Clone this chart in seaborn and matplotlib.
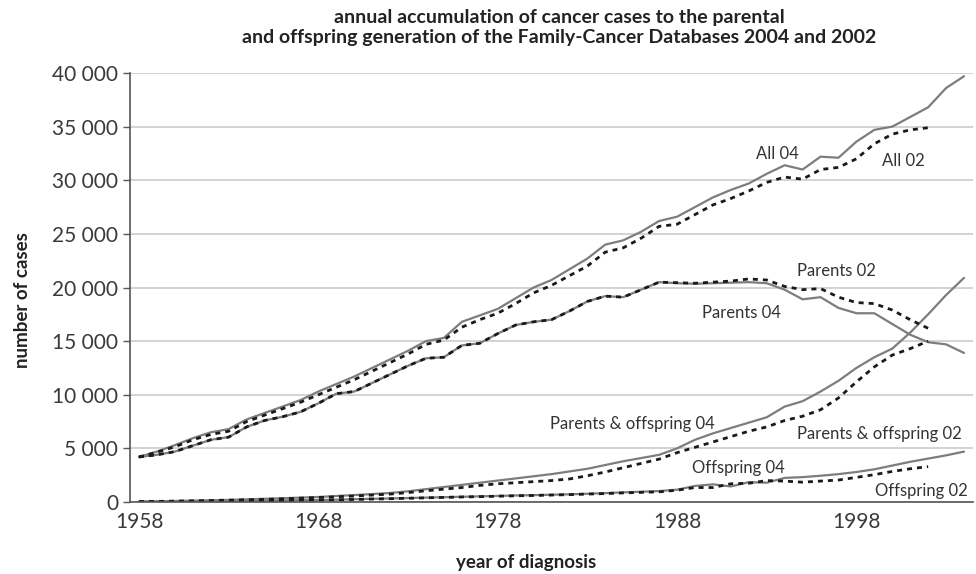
import matplotlib
matplotlib.use("Agg")
import matplotlib.pyplot as plt
import seaborn as sns
from matplotlib.ticker import FuncFormatter, MultipleLocator

# years of diagnosis: database 2004 runs to 2004, database 2002 to 2002
years_04 = list(range(1958, 2005))
years_02 = list(range(1958, 2003))

# all cases
all_04 = [4200, 4700, 5300, 5950, 6500, 6800, 7700, 8300, 8900, 9500,
          10300, 11000, 11700, 12500, 13300, 14100, 15000, 15300, 16800, 17400,
          18000, 19000, 20000, 20700, 21700, 22700, 24000, 24400, 25200, 26200,
          26600, 27500, 28400, 29100, 29700, 30600, 31400, 31000, 32200, 32100,
          33600, 34700, 35000, 35900, 36800, 38600, 39700]
all_02 = [4200, 4650, 5150, 5800, 6300, 6600, 7500, 8100, 8700, 9300,
          10000, 10700, 11400, 12200, 13000, 13800, 14700, 15100, 16300, 17000,
          17600, 18500, 19500, 20200, 21100, 22000, 23300, 23700, 24600, 25700,
          25900, 26800, 27700, 28300, 29000, 29800, 30300, 30100, 31000, 31200,
          32000, 33400, 34300, 34700, 34900]

# parents
parents_04 = [4200, 4400, 4700, 5250, 5800, 6050, 7000, 7600, 7950, 8400,
              9200, 10100, 10300, 11100, 11900, 12700, 13400, 13500, 14600, 14800,
              15700, 16500, 16800, 17000, 17800, 18700, 19200, 19100, 19800, 20500,
              20400, 20350, 20400, 20450, 20500, 20400, 19800, 18900, 19100, 18100,
              17600, 17600, 16600, 15600, 14900, 14700, 13900]
parents_02 = [4200, 4400, 4700, 5250, 5800, 6050, 7000, 7600, 7950, 8400,
              9200, 10100, 10300, 11100, 11900, 12700, 13400, 13500, 14600, 14800,
              15700, 16500, 16800, 17000, 17800, 18700, 19200, 19100, 19800, 20500,
              20450, 20400, 20500, 20600, 20800, 20700, 20100, 19800, 19900, 19100,
              18600, 18500, 17900, 17000, 16200]

# parents & offspring
both_04 = [50, 70, 100, 130, 170, 200, 250, 300, 350, 410,
           470, 560, 650, 740, 840, 1000, 1200, 1400, 1600, 1800,
           2000, 2200, 2400, 2600, 2850, 3100, 3450, 3800, 4100, 4400,
           5000, 5800, 6400, 6900, 7400, 7900, 8900, 9400, 10300, 11300,
           12500, 13500, 14300, 15800, 17500, 19300, 20900]
both_02 = [40, 60, 80, 110, 140, 170, 210, 250, 300, 360,
           420, 490, 560, 650, 740, 880, 1050, 1200, 1350, 1550,
           1700, 1800, 1900, 2000, 2150, 2450, 2800, 3200, 3600, 4000,
           4600, 5100, 5600, 6100, 6600, 7000, 7600, 8000, 8600, 9700,
           11200, 12600, 13700, 14300, 15000]

# offspring
offspring_04 = [20, 30, 40, 50, 70, 90, 110, 130, 150, 170,
                190, 220, 260, 300, 330, 370, 410, 450, 490, 530,
                570, 610, 640, 680, 720, 770, 830, 900, 960, 1020,
                1150, 1500, 1650, 1450, 1850, 1800, 2250, 2320, 2450, 2600,
                2800, 3050, 3400, 3750, 4050, 4350, 4700]
offspring_02 = [15, 25, 35, 45, 60, 80, 100, 120, 140, 160,
                180, 210, 240, 280, 310, 350, 390, 430, 470, 500,
                540, 580, 610, 650, 690, 740, 790, 850, 900, 950,
                1100, 1350, 1350, 1700, 1750, 2000, 1950, 1850, 1950, 2050,
                2300, 2550, 2850, 3100, 3300]

# labels written next to the curves: (text, year, cases)
labels = [("All 04", 1993.6, 32450), ("All 02", 2000.6, 31800),
          ("Parents 02", 1996.9, 21500), ("Parents 04", 1991.6, 17600),
          ("Parents & offspring 04", 1985.5, 7250),
          ("Parents & offspring 02", 1999.3, 6300),
          ("Offspring 04", 1991.4, 3150), ("Offspring 02", 2001.6, 1000)]

sns.set_style("white")
plt.rcParams["font.family"] = ["Lato", "DejaVu Sans"]

fig = plt.figure(figsize=(9.76, 5.74), dpi=100)
ax = fig.add_axes([0.1332, 0.1254, 0.8637, 0.7474])

solid_col = "#7d7d7d"
dash_col = "#1a1a1a"
dash_style = (0, (1.8, 1.8))

# solid lines: 2004 database
for vals in [all_04, parents_04, both_04, offspring_04]:
    sns.lineplot(x=years_04, y=vals, ax=ax, color=solid_col, linewidth=1.6)
# dashed lines: 2002 database
for vals in [all_02, parents_02, both_02, offspring_02]:
    sns.lineplot(x=years_02, y=vals, ax=ax, color=dash_col, linewidth=2.0,
                 linestyle=dash_style)

for txt, xx, yy in labels:
    ax.text(xx, yy, txt, ha="center", va="center", fontsize=12, color="#333333")

ax.set_xlim(1957.5, 2004.5)
ax.set_ylim(0, 40000)
ax.yaxis.set_major_locator(MultipleLocator(5000))
ax.yaxis.set_major_formatter(FuncFormatter(lambda v, p: f"{int(v):,}".replace(",", " ")))
ax.set_xticks([1958, 1968, 1978, 1988, 1998])
ax.set_xticks([y - 0.5 for y in range(1958, 2006)], minor=True)
ax.tick_params(axis="x", which="major", length=0, pad=7, labelsize=15, colors="#3a3a3a")
ax.tick_params(axis="x", which="minor", length=6, width=1, color="#555555", direction="out")
ax.tick_params(axis="y", which="major", length=5, width=1, color="#555555",
               labelsize=15, colors="#3a3a3a", direction="out", left=True)

ax.grid(axis="y", color="#d0d0d0", linewidth=1.3)
ax.grid(axis="x", visible=False)
ax.set_axisbelow(True)
for side in ["top", "right"]:
    ax.spines[side].set_visible(False)
for side in ["left", "bottom"]:
    ax.spines[side].set_color("#555555")
    ax.spines[side].set_linewidth(1.2)

ax.set_ylabel("number of cases", fontsize=13.5, fontweight="bold", color="#222222")
ax.set_xlabel("year of diagnosis", fontsize=13.5, fontweight="bold", color="#222222")
ax.yaxis.set_label_coords(-0.118, 0.47)
ax.xaxis.set_label_coords(0.47, -0.122)

fig.text(0.573, 0.952, "annual accumulation of cancer cases to the parental\n"
         "and offspring generation of the Family-Cancer Databases 2004 and 2002",
         ha="center", va="center", fontsize=14, fontweight="bold", color="#222222",
         linespacing=1.25)

plt.savefig("out.png", dpi=100)
